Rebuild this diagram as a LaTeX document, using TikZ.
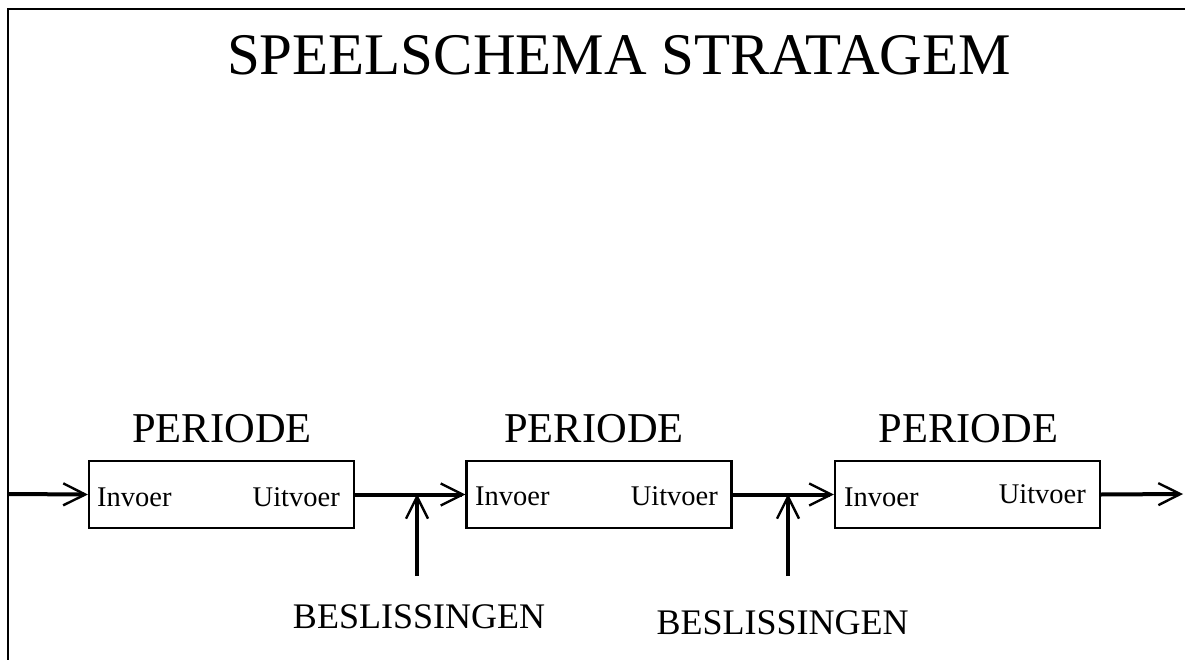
\documentclass[tikz,border=0pt]{standalone}
\usepackage{fontspec}
\setmainfont{Liberation Serif}
\usetikzlibrary{arrows.meta}
\tikzset{
  frame/.style={line width=2pt},
  periodbox/.style={draw, line width=2.2pt, rectangle, minimum width=265pt, minimum height=67pt, inner sep=0pt},
  flow/.style={line width=4pt, -{Straight Barb[length=22pt, width=22pt, line width=2.4pt]}},
  title/.style={font=\fontsize{59}{61}\selectfont, anchor=base, inner sep=0pt},
  ptitle/.style={font=\fontsize{42.5}{44}\selectfont, anchor=base, inner sep=0pt},
  btitle/.style={font=\fontsize{36}{38}\selectfont, anchor=base, inner sep=0pt},
  port/.style={font=\fontsize{28.5}{30}\selectfont, inner sep=0pt}
}
\begin{document}
\begin{tikzpicture}[x=1pt, y=-1pt]
\useasboundingbox (0,0) rectangle (1185,660);
\draw[frame] (8,660) -- (8,9) -- (1185,9);
\node[title] (t) at (619,75) {SPEELSCHEMA STRATAGEM};
% boxes
\node[periodbox] (b1) at (221.5,494.5) {};
\node[periodbox] (b2) at (599,494.5) {};
\node[periodbox] (b3) at (967.5,494.5) {};
\node[ptitle] (p1) at (222,442) {PERIODE};
\node[ptitle] (p2) at (594,442) {PERIODE};
\node[ptitle] (p3) at (968.5,442) {PERIODE};
\node[port, anchor=base west] (i1) at (97,506) {Invoer};
\node[port, anchor=base east] (u1) at (340,506) {Uitvoer};
\node[port, anchor=base west] (i2) at (475,505) {Invoer};
\node[port, anchor=base east] (u2) at (718,505) {Uitvoer};
\node[port, anchor=base west] (i3) at (844,506) {Invoer};
\node[port, anchor=base east] (u3) at (1086,503) {Uitvoer};
% decisions
\node[btitle] (d1) at (419,628) {BESLISSINGEN};
\node[btitle] (d2) at (782.5,634) {BESLISSINGEN};
\coordinate (in) at (8,494);
\coordinate (out) at (1183,494);
\coordinate (s1) at (417,576);
\coordinate (j1) at (417,494);
\coordinate (s2) at (788,576);
\coordinate (j2) at (788,494);
\draw[flow] (in) -- (b1.west);
\draw[flow] (b1.east) -- (b2.west);
\draw[flow] (b2.east) -- (b3.west);
\draw[flow] (b3.east) -- (out);
\draw[flow] (s1) -- (j1);
\draw[flow] (s2) -- (j2);
\end{tikzpicture}
\end{document}
